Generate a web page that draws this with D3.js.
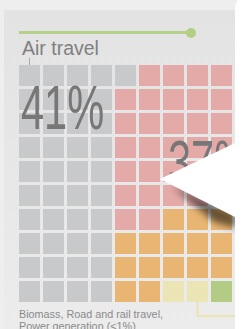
<!DOCTYPE html>
<html>
<head>
<meta charset="utf-8">
<script src="https://cdn.jsdelivr.net/npm/d3@7/dist/d3.min.js"></script>
<style>
  html, body { margin: 0; padding: 0; background: #eeeeee; overflow: hidden; }
  svg { display: block; font-family: "Liberation Sans", Arial, sans-serif; }
</style>
</head>
<body>
<script>
// data: share of emissions, one square = 1%
const categories = ['Air travel', 'Category 2', 'Category 3', 'Category 4', 'Biomass, Road and rail travel, Power generation'];
const values = [41, 37, 18, 2, 2];
const colors = ['#c8c9ca', '#e4aaa8', '#e8b672', '#ebe4b4', '#b2cc86'];
const bigLabels = ['41%', '37%'];
const footLines = ['Biomass, Road and rail travel,', 'Power generation (<1%)'];

const width = 246;
const height = 329;
const nCols = 10;
const nRows = 10;

// first 4 columns are filled top to bottom, the rest row by row
function cellPos(i) {
    if (i < 40) return { col: Math.floor(i / nRows), row: i % nRows };
    const j = i - 40;
    return { col: 4 + (j % 6), row: Math.floor(j / 6) };
}

const cells = [];
values.forEach((v, k) => {
    for (let n = 0; n < v; n++) cells.push({ cat: categories[k] });
});
cells.forEach((d, i) => Object.assign(d, cellPos(i)));

const svg = d3.select('body').append('svg')
    .attr('width', width)
    .attr('height', height);

const defs = svg.append('defs');
const grad = defs.append('linearGradient').attr('id', 'panelGrad')
    .attr('x1', 0).attr('y1', 0).attr('x2', 0).attr('y2', 1);
grad.append('stop').attr('offset', '0%').attr('stop-color', '#e3e3e3');
grad.append('stop').attr('offset', '100%').attr('stop-color', '#ececec');
defs.append('filter').attr('id', 'blur')
    .attr('x', '-50%').attr('y', '-50%').attr('width', '200%').attr('height', '200%')
    .append('feGaussianBlur').attr('stdDeviation', 3.5);

// background
svg.append('rect').attr('width', width).attr('height', height).attr('fill', '#eeeeee');
svg.append('rect').attr('x', 4).attr('y', 10).attr('width', width).attr('height', height)
    .attr('fill', 'url(#panelGrad)');

// scales
const x = d3.scaleBand().domain(d3.range(nCols)).range([19, 256]).paddingInner(0.125);
const y = d3.scaleBand().domain(d3.range(nRows)).range([65, 302]).paddingInner(0.125);
const color = d3.scaleOrdinal().domain(categories).range(colors);

// slider-like line at the top
svg.append('line')
    .attr('x1', 19).attr('x2', 191).attr('y1', 32.5).attr('y2', 32.5)
    .attr('stroke', '#b5d08a').attr('stroke-width', 3);
svg.append('circle').attr('cx', 191).attr('cy', 33).attr('r', 5).attr('fill', '#b3cf86');

// label
svg.append('text').attr('x', 22).attr('y', 55)
    .attr('font-size', 19.5).attr('fill', '#7f7f7f').text(categories[0]);
svg.append('line').attr('x1', 29.5).attr('x2', 29.5).attr('y1', 58).attr('y2', 65)
    .attr('stroke', '#a9a9a9').attr('stroke-width', 1);

// waffle
svg.append('g').selectAll('rect')
    .data(cells)
    .join('rect')
    .attr('x', d => x(d.col))
    .attr('y', d => y(d.row))
    .attr('width', x.bandwidth())
    .attr('height', y.bandwidth())
    .attr('fill', d => color(d.cat));

// connector for the small categories
const cx = x(7) + x.bandwidth() / 2;
svg.append('path')
    .attr('d', `M${cx},${y(9) + y.bandwidth()} V316 H246`)
    .attr('fill', 'none').attr('stroke', '#ece4b2').attr('stroke-width', 2);

// big percentages
const big = [
    { t: bigLabels[0], x: 21, y: 128.5 },
    { t: bigLabels[1], x: 168, y: 183.5 }
];
svg.append('g').selectAll('text')
    .data(big)
    .join('text')
    .attr('transform', d => `translate(${d.x},${d.y}) scale(0.66,1)`)
    .attr('font-size', 63)
    .attr('fill', '#777777')
    .text(d => d.t);

// footer
svg.append('g').selectAll('text')
    .data(footLines)
    .join('text')
    .attr('x', 19)
    .attr('y', (d, i) => 318 + i * 12)
    .attr('font-size', 10.8)
    .attr('fill', '#8a8a8a')
    .text(d => d);

// white popup covering the right side
svg.append('path')
    .attr('d', 'M172,186 L236,214 L236,228 L214,222 Z')
    .attr('fill', '#000').attr('opacity', 0.55).attr('filter', 'url(#blur)');
svg.append('path')
    .attr('d', 'M235,143 L235,9 Q235,-4 250,-6 L260,-6 L260,340 L235,340 L235,217 L160,179 Z')
    .attr('fill', '#ffffff');
</script>
</body>
</html>
